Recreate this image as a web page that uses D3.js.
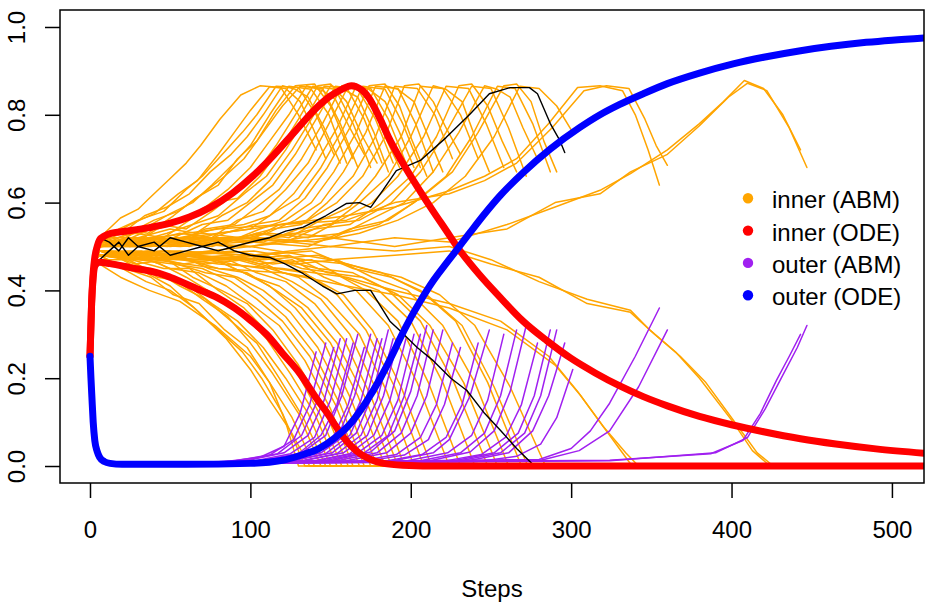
<!DOCTYPE html>
<html>
<head>
<meta charset="utf-8">
<script src="https://d3js.org/d3.v7.min.js"></script>
<style>
body { margin: 0; background: #fff; }
svg { font-family: "Liberation Sans", Arial, Helvetica, sans-serif; }
.run { fill: none; stroke-width: 1.5px; stroke-linejoin: round; stroke-linecap: round; }
.ode { fill: none; stroke-width: 7px; stroke-linejoin: round; stroke-linecap: round; }
</style>
</head>
<body>
<script>
// inner (ABM) runs, branch going up then down at the end of the run
var innerUp = [
 [[0,.25],[3,.47],[6,.52],[19,.565],[30,.585],[37,.61],[50,.655],[60,.69],[69,.73],[81,.79],[94,.845],[106,.866],[119,.862],[130,.80],[141,.72]],
 [[0,.25],[3,.47],[6,.51],[15,.53],[25,.55],[40,.575],[55,.62],[67,.65],[80,.71],[90,.76],[100,.81],[112,.864],[122,.86],[131,.83],[139,.77],[147,.70]],
 [[0,.25],[3,.47],[6,.50],[18,.54],[30,.56],[46,.58],[60,.63],[70,.66],[85,.72],[95,.76],[104,.80],[116,.865],[130,.862],[141,.80],[152,.71]],
 [[0,.25],[3,.47],[6,.51],[20,.53],[34,.57],[48,.59],[62,.62],[75,.67],[88,.71],[98,.75],[108,.80],[120,.866],[128,.858],[136,.84],[146,.77],[156,.69]],
 [[0,.25],[3,.47],[6,.50],[22,.52],[38,.55],[50,.575],[64,.60],[76,.64],[90,.69],[100,.73],[112,.80],[124,.865],[138,.858],[149,.80],[160,.69]],
 [[0,.25],[3,.47],[6,.52],[20,.54],[36,.53],[52,.57],[66,.61],[80,.64],[92,.70],[104,.74],[116,.81],[128,.866],[140,.87],[150,.82],[157,.76],[164,.70]],
 [[0,.25],[3,.47],[6,.50],[24,.53],[40,.56],[55,.58],[70,.62],[84,.66],[96,.70],[108,.76],[120,.82],[131,.865],[145,.86],[156,.78],[167,.68]],
 [[0,.25],[3,.47],[6,.51],[25,.50],[42,.54],[58,.56],[72,.59],[86,.63],[100,.68],[112,.74],[124,.80],[135,.866],[145,.855],[153,.835],[162,.77],[171,.71]],
 [[0,.25],[3,.47],[6,.50],[26,.52],[44,.55],[60,.54],[76,.58],[90,.62],[104,.67],[116,.73],[128,.80],[139,.865],[153,.858],[164,.78],[175,.68]],
 [[0,.25],[3,.47],[6,.51],[28,.53],[46,.52],[62,.56],[78,.60],[92,.61],[106,.66],[118,.72],[130,.79],[142,.866],[150,.87],[160,.83],[170,.75],[179,.69]],
 [[0,.25],[3,.47],[6,.50],[28,.51],[48,.53],[64,.55],[80,.57],[96,.62],[110,.66],[122,.72],[134,.79],[146,.865],[160,.862],[171,.79],[182,.69]],
 [[0,.25],[3,.47],[6,.52],[30,.52],[50,.54],[66,.53],[82,.57],[98,.60],[112,.65],[126,.72],[138,.79],[150,.866],[158,.858],[167,.84],[177,.76],[186,.67]],
 [[0,.25],[3,.47],[6,.50],[30,.50],[52,.52],[70,.55],[86,.56],[100,.60],[114,.64],[128,.71],[141,.79],[153,.865],[167,.858],[178,.79],[189,.69]],
 [[0,.25],[3,.47],[6,.51],[32,.52],[54,.51],[72,.54],[90,.55],[104,.59],[118,.63],[132,.70],[145,.78],[157,.866],[166,.87],[175,.83],[184,.75],[193,.68]],
 [[0,.25],[3,.47],[6,.50],[34,.51],[56,.53],[76,.52],[92,.56],[108,.58],[122,.63],[136,.69],[149,.78],[161,.865],[175,.86],[186,.79],[197,.69]],
 [[0,.25],[3,.47],[6,.51],[34,.50],[58,.52],[78,.54],[96,.55],[112,.57],[127,.62],[141,.69],[154,.77],[166,.866],[174,.858],[184,.83],[193,.76],[202,.68]],
 [[0,.25],[3,.47],[6,.50],[36,.52],[60,.51],[80,.53],[100,.54],[116,.58],[130,.61],[144,.68],[158,.77],[170,.865],[184,.858],[195,.78],[206,.68]],
 [[0,.25],[3,.47],[6,.51],[38,.51],[62,.50],[84,.53],[102,.55],[118,.56],[134,.61],[148,.68],[162,.77],[174,.866],[184,.87],[193,.82],[201,.74],[210,.66]],
 [[0,.25],[3,.47],[6,.50],[38,.50],[64,.52],[86,.51],[106,.54],[122,.56],[138,.60],[152,.67],[166,.76],[178,.865],[192,.86],[203,.78],[214,.67]],
 [[0,.25],[3,.47],[6,.51],[40,.52],[66,.51],[90,.52],[110,.53],[128,.56],[144,.60],[158,.67],[172,.76],[184,.866],[192,.858],[202,.83],[211,.75],[220,.67]],
 [[0,.25],[3,.47],[6,.50],[42,.51],[70,.53],[94,.52],[114,.54],[132,.55],[148,.60],[164,.66],[178,.75],[190,.865],[204,.86],[215,.80],[226,.70]],
 [[0,.25],[3,.47],[6,.51],[44,.50],[72,.52],[98,.51],[118,.55],[136,.56],[154,.60],[170,.66],[184,.75],[196,.866],[205,.87],[214,.83],[222,.77],[231,.71]],
 [[0,.25],[3,.47],[6,.50],[46,.51],[76,.50],[104,.53],[124,.52],[144,.56],[162,.59],[178,.66],[194,.75],[206,.865],[220,.86],[231,.80],[242,.70]],
 [[0,.25],[3,.47],[6,.51],[48,.50],[80,.52],[108,.51],[130,.54],[150,.55],[168,.60],[186,.66],[200,.75],[214,.866],[222,.858],[232,.83],[240,.75],[249,.67]],
 [[0,.25],[3,.47],[6,.50],[50,.52],[84,.51],[112,.53],[136,.52],[156,.56],[176,.60],[192,.66],[208,.75],[222,.865],[236,.86],[247,.78],[258,.68]],
 [[0,.25],[3,.47],[6,.51],[52,.51],[88,.50],[116,.52],[140,.54],[162,.55],[182,.60],[200,.66],[216,.75],[230,.866],[238,.87],[248,.82],[257,.74],[266,.67]],
 [[0,.25],[3,.47],[6,.50],[54,.52],[92,.52],[122,.51],[146,.55],[168,.56],[188,.60],[206,.67],[222,.76],[238,.865],[250,.86],[261,.77],[272,.66]],
 [[0,.25],[3,.47],[6,.51],[56,.50],[96,.51],[126,.53],[152,.52],[174,.56],[196,.60],[214,.67],[230,.76],[246,.866],[254,.858],[262,.84],[270,.77],[279,.70]],
 [[0,.25],[3,.47],[6,.50],[58,.51],[100,.50],[132,.52],[158,.53],[180,.55],[202,.60],[222,.66],[238,.75],[254,.865],[265,.86],[276,.78],[287,.67]],
 [[0,.25],[3,.47],[6,.51],[60,.52],[102,.51],[136,.50],[162,.54],[186,.56],[206,.61],[226,.67],[242,.76],[258,.866],[266,.87],[275,.83],[283,.74],[291,.67]],
 [[0,.25],[3,.47],[6,.50],[62,.51],[106,.52],[140,.51],[168,.53],[192,.56],[214,.60],[234,.66],[252,.75],[268,.865],[280,.86],[291,.82],[301,.76]],
 [[0,.25],[3,.47],[6,.51],[40,.52],[80,.54],[120,.55],[160,.57],[190,.59],[224,.627],[246,.66],[266,.70],[286,.78],[304,.862],[318,.866],[332,.855],[340,.80],[348,.72],[355,.64]],
 [[0,.25],[3,.47],[6,.50],[40,.51],[80,.53],[120,.55],[160,.56],[190,.60],[224,.62],[246,.65],[266,.69],[288,.77],[308,.855],[322,.866],[336,.86],[346,.79],[353,.73],[360,.685]],
 [[0,.25],[3,.47],[6,.51],[50,.50],[100,.52],[150,.50],[190,.52],[224,.51],[260,.55],[290,.59],[318,.628],[337,.666],[360,.72],[380,.78],[395,.83],[408,.878],[420,.86],[432,.80],[443,.72]],
 [[0,.25],[3,.47],[6,.50],[50,.51],[100,.50],[150,.52],[190,.50],[224,.52],[260,.54],[290,.60],[318,.62],[337,.67],[360,.71],[380,.775],[398,.84],[410,.872],[422,.855],[436,.77],[447,.68]]
];

// inner (ABM) runs, branch going down to zero
var innerDown = [
 [[0,.25],[3,.47],[6,.46],[19,.43],[37,.40],[56,.375],[78,.32],[100,.25],[112,.19],[122,.10],[130,0],[141,0]],
 [[0,.25],[3,.47],[6,.48],[20,.45],[35,.42],[50,.40],[65,.36],[80,.31],[95,.26],[107,.2],[120,.12],[134,0],[147,0]],
 [[0,.25],[3,.47],[6,.49],[20,.47],[35,.44],[50,.41],[68,.35],[85,.29],[100,.22],[112,.15],[125,.08],[137,0],[152,0]],
 [[0,.25],[3,.47],[6,.48],[22,.45],[38,.43],[52,.39],[68,.37],[84,.31],[98,.27],[112,.19],[126,.11],[140,0],[156,0]],
 [[0,.25],[3,.47],[6,.49],[24,.47],[40,.44],[55,.42],[70,.38],[86,.34],[100,.28],[114,.21],[130,.12],[144,0],[160,0]],
 [[0,.25],[3,.47],[6,.47],[22,.46],[38,.45],[56,.41],[72,.38],[88,.33],[104,.28],[118,.20],[133,.11],[147,0],[164,0]],
 [[0,.25],[3,.47],[6,.48],[24,.47],[42,.43],[58,.42],[76,.37],[92,.33],[108,.27],[122,.20],[136,.12],[150,0],[167,0]],
 [[0,.25],[3,.47],[6,.49],[26,.48],[44,.46],[60,.43],[78,.39],[94,.35],[110,.29],[125,.21],[140,.12],[154,0],[171,0]],
 [[0,.25],[3,.47],[6,.48],[26,.47],[46,.45],[62,.45],[80,.40],[96,.36],[112,.30],[128,.22],[143,.12],[157,0],[175,0]],
 [[0,.25],[3,.47],[6,.49],[28,.46],[48,.47],[64,.43],[82,.40],[98,.37],[114,.31],[130,.23],[146,.13],[161,0],[179,0]],
 [[0,.25],[3,.47],[6,.48],[30,.48],[50,.45],[68,.44],[85,.41],[100,.37],[118,.32],[134,.24],[150,.13],[164,0],[182,0]],
 [[0,.25],[3,.47],[6,.47],[30,.47],[52,.46],[70,.45],[88,.42],[104,.38],[120,.33],[137,.25],[153,.14],[168,0],[186,0]],
 [[0,.25],[3,.47],[6,.49],[32,.49],[54,.46],[72,.44],[90,.43],[106,.39],[122,.34],[139,.26],[156,.14],[171,0],[189,0]],
 [[0,.25],[3,.47],[6,.48],[32,.47],[56,.48],[74,.45],[92,.43],[108,.40],[125,.35],[142,.27],[159,.15],[175,0],[193,0]],
 [[0,.25],[3,.47],[6,.49],[34,.48],[58,.46],[78,.47],[96,.44],[112,.41],[128,.36],[146,.28],[163,.15],[179,0],[197,0]],
 [[0,.25],[3,.47],[6,.48],[36,.49],[60,.47],[80,.45],[98,.44],[116,.40],[132,.36],[150,.28],[167,.16],[184,0],[202,0]],
 [[0,.25],[3,.47],[6,.49],[36,.47],[62,.48],[84,.46],[102,.43],[118,.41],[136,.36],[154,.28],[171,.16],[188,0],[206,0]],
 [[0,.25],[3,.47],[6,.48],[38,.49],[64,.47],[86,.47],[104,.44],[122,.42],[140,.37],[158,.29],[175,.16],[192,0],[210,0]],
 [[0,.25],[3,.47],[6,.49],[40,.48],[66,.48],[88,.46],[108,.45],[126,.42],[144,.38],[162,.30],[179,.17],[196,0],[214,0]],
 [[0,.25],[3,.47],[6,.48],[40,.47],[68,.48],[92,.47],[112,.45],[130,.43],[148,.38],[168,.30],[185,.17],[202,0],[220,0]],
 [[0,.25],[3,.47],[6,.49],[42,.48],[72,.46],[96,.47],[116,.45],[134,.44],[154,.39],[172,.31],[190,.18],[208,0],[226,0]],
 [[0,.25],[3,.47],[6,.48],[44,.49],[74,.47],[100,.48],[120,.44],[138,.43],[158,.39],[176,.31],[194,.18],[213,0],[231,0]],
 [[0,.25],[3,.47],[6,.49],[46,.48],[78,.49],[106,.46],[126,.47],[146,.43],[166,.40],[186,.32],[204,.19],[224,0],[242,0]],
 [[0,.25],[3,.47],[6,.48],[48,.49],[82,.47],[110,.48],[132,.45],[152,.44],[172,.40],[192,.33],[211,.19],[231,0],[249,0]],
 [[0,.25],[3,.47],[6,.49],[50,.47],[86,.48],[114,.46],[138,.47],[158,.43],[180,.40],[200,.33],[220,.19],[240,0],[258,0]],
 [[0,.25],[3,.47],[6,.48],[52,.48],[90,.49],[118,.47],[142,.45],[164,.44],[186,.40],[206,.33],[227,.19],[248,0],[266,0]],
 [[0,.25],[3,.47],[6,.49],[54,.47],[94,.47],[124,.48],[148,.44],[170,.43],[192,.39],[212,.32],[233,.19],[254,0],[272,0]],
 [[0,.25],[3,.47],[6,.48],[56,.49],[98,.48],[128,.46],[154,.47],[176,.43],[198,.40],[220,.32],[240,.19],[261,0],[279,0]],
 [[0,.25],[3,.47],[6,.49],[58,.48],[102,.49],[134,.47],[160,.46],[182,.44],[206,.40],[228,.33],[248,.19],[269,0],[287,0]],
 [[0,.25],[3,.47],[6,.48],[60,.47],[104,.48],[138,.49],[164,.45],[188,.43],[210,.39],[232,.32],[252,.18],[273,0],[291,0]],
 [[0,.25],[3,.47],[6,.49],[62,.48],[108,.47],[142,.48],[170,.45],[194,.43],[218,.39],[240,.32],[262,.18],[284,0],[301,0]],
 [[0,.25],[3,.47],[6,.48],[40,.47],[80,.45],[120,.44],[160,.41],[190,.39],[224,.36],[260,.31],[290,.23],[306,.16],[318,.10],[330,.04],[338,0],[355,0]],
 [[0,.25],[3,.47],[6,.49],[40,.48],[80,.46],[120,.45],[160,.43],[190,.40],[224,.37],[256,.33],[286,.25],[304,.17],[320,.09],[334,.03],[342,0],[360,0]],
 [[0,.25],[3,.47],[6,.48],[50,.49],[100,.48],[150,.50],[190,.49],[224,.50],[250,.47],[280,.42],[310,.38],[337,.355],[349,.31],[365,.26],[380,.20],[401,.10],[413,.035],[424,0],[443,0]],
 [[0,.25],[3,.47],[6,.49],[50,.48],[100,.50],[150,.47],[190,.48],[224,.49],[250,.46],[280,.43],[310,.37],[337,.35],[352,.30],[368,.25],[384,.19],[404,.09],[416,.03],[426,0],[447,0]]
];

// outer (ABM) runs
var outerRuns = [
 [[0,.25],[4,.03],[10,.004],[80,.008],[106,.02],[121,.045],[131,.12],[141,.26]],
 [[0,.25],[4,.03],[10,.004],[87,.01],[112,.025],[127,.06],[137,.14],[147,.28]],
 [[0,.25],[4,.03],[10,.004],[92,.01],[117,.028],[132,.07],[142,.15],[152,.27]],
 [[0,.25],[4,.03],[10,.004],[96,.011],[121,.03],[136,.07],[146,.15],[156,.29]],
 [[0,.25],[4,.03],[10,.004],[100,.01],[125,.028],[140,.065],[150,.15],[160,.29]],
 [[0,.25],[4,.03],[10,.004],[104,.01],[129,.025],[144,.07],[154,.14],[164,.28]],
 [[0,.25],[4,.03],[10,.004],[107,.012],[132,.03],[147,.07],[157,.16],[167,.30]],
 [[0,.25],[4,.03],[10,.004],[111,.01],[136,.026],[151,.06],[161,.14],[171,.27]],
 [[0,.25],[4,.03],[10,.004],[115,.012],[140,.03],[155,.07],[165,.16],[175,.30]],
 [[0,.25],[4,.03],[10,.004],[119,.01],[144,.03],[159,.07],[169,.15],[179,.29]],
 [[0,.25],[4,.03],[10,.004],[122,.01],[147,.028],[162,.07],[172,.15],[182,.29]],
 [[0,.25],[4,.03],[10,.004],[126,.012],[151,.03],[166,.075],[176,.16],[186,.31]],
 [[0,.25],[4,.03],[10,.004],[129,.01],[154,.028],[169,.07],[179,.15],[189,.29]],
 [[0,.25],[4,.03],[10,.004],[133,.012],[158,.03],[173,.07],[183,.16],[193,.30]],
 [[0,.25],[4,.03],[10,.004],[137,.01],[162,.028],[177,.07],[187,.15],[197,.29]],
 [[0,.25],[4,.03],[10,.004],[142,.012],[167,.03],[182,.07],[192,.15],[202,.30]],
 [[0,.25],[4,.03],[10,.004],[146,.012],[171,.03],[186,.07],[196,.16],[206,.30]],
 [[0,.25],[4,.03],[10,.004],[150,.012],[175,.032],[190,.08],[200,.17],[210,.32]],
 [[0,.25],[4,.03],[10,.004],[154,.012],[179,.03],[194,.075],[204,.16],[214,.31]],
 [[0,.25],[4,.03],[10,.004],[160,.012],[185,.03],[200,.075],[210,.16],[220,.31]],
 [[0,.25],[4,.03],[10,.004],[166,.01],[191,.026],[206,.065],[216,.14],[226,.28]],
 [[0,.25],[4,.03],[10,.004],[171,.01],[196,.025],[211,.06],[221,.14],[231,.27]],
 [[0,.25],[4,.03],[10,.004],[182,.01],[207,.026],[222,.065],[232,.14],[242,.28]],
 [[0,.25],[4,.03],[10,.004],[189,.012],[214,.03],[224,.06],[237,.16],[249,.31]],
 [[0,.25],[4,.03],[10,.004],[198,.012],[223,.03],[238,.07],[248,.15],[258,.30]],
 [[0,.25],[4,.03],[10,.004],[206,.012],[231,.03],[246,.075],[256,.16],[266,.31]],
 [[0,.25],[4,.03],[10,.004],[212,.012],[237,.032],[252,.08],[262,.17],[272,.32]],
 [[0,.25],[4,.03],[10,.004],[219,.01],[244,.026],[259,.065],[269,.14],[279,.28]],
 [[0,.25],[4,.03],[10,.004],[227,.012],[252,.03],[267,.075],[277,.16],[287,.31]],
 [[0,.25],[4,.03],[10,.004],[231,.012],[256,.03],[271,.075],[281,.16],[291,.31]],
 [[0,.25],[4,.03],[10,.004],[241,.01],[266,.022],[281,.05],[291,.11],[301,.22]],
 [[0,.25],[4,.03],[10,.004],[280,.015],[300,.04],[312,.08],[324,.143],[340,.25],[355,.36]],
 [[0,.25],[4,.03],[10,.004],[280,.012],[305,.035],[324,.08],[342,.18],[360,.31]],
 [[0,.25],[4,.03],[10,.004],[324,.013],[387,.028],[407,.058],[418,.12],[428,.195],[436,.25],[443,.30]],
 [[0,.25],[4,.03],[10,.004],[324,.012],[390,.03],[410,.065],[421,.13],[431,.2],[441,.27],[447,.32]],
 [[0,.25],[4,.03],[10,.004],[236,.012],[261,.03],[276,.08],[286,.16],[296,.28]]
];

// highlighted run (black)
var blackUp = [[0,.25],[3,.47],[6,.52],[12,.51],[18,.49],[24,.52],[30,.50],[40,.49],[50,.52],[60,.51],[70,.50],[80,.49],[90,.50],[100,.51],[112,.52],[122,.535],[133,.544],[147,.57],[160,.598],[168,.60],[175,.589],[183,.63],[191,.673],[206,.696],[222,.748],[237,.802],[249,.848],[262,.862],[274,.862],[279,.848],[287,.78],[293,.741],[296,.714]];
var blackDown = [[0,.25],[3,.47],[6,.47],[12,.49],[18,.51],[24,.48],[30,.50],[40,.51],[50,.48],[60,.49],[70,.50],[80,.51],[90,.49],[100,.48],[112,.475],[122,.46],[133,.438],[145,.41],[154,.392],[165,.40],[175,.40],[187,.33],[193,.309],[204,.27],[214,.24],[225,.2],[235,.172],[246,.12],[256,.081],[266,.04],[276,.004],[296,0]];

// ODE solutions
var odeInnerHigh = [[0,.25],[1,.37],[2,.44],[3,.475],[4.5,.5],[6,.515],[9,.524],[13,.53],[25,.536],[37,.543],[50,.553],[62,.567],[75,.589],[89,.622],[102,.662],[114,.706],[128,.763],[141,.815],[150,.843],[157,.858],[163,.866],[166,.864],[170,.855],[174,.838],[178,.812],[182,.782],[186,.75],[195,.69],[206,.625],[214,.58],[222,.537],[229,.499],[243,.435],[256,.383],[270,.33],[285,.285],[300,.245],[315,.212],[330,.183],[345,.158],[360,.137],[380,.113],[400,.094],[420,.078],[443,.062],[465,.05],[490,.039],[520,.029]];
var odeInnerLow = [[0,.25],[1,.37],[2,.43],[3,.455],[4.5,.462],[6,.464],[12.5,.461],[25,.452],[44,.438],[50,.43],[69,.40],[79,.384],[90,.36],[100,.332],[110,.30],[120,.257],[131,.21],[141,.155],[148,.12],[153,.092],[158,.066],[163,.045],[168,.029],[175,.015],[183,.006],[195,.002],[220,0],[520,0]];
var odeOuter = [[0,.25],[0.6,.2],[1.2,.156],[2,.1],[3,.058],[4.5,.033],[6,.02],[9,.01],[12.5,.006],[20,.004],[60,.004],[100,.006],[120,.013],[131,.024],[143,.04],[152,.062],[162,.095],[172,.145],[181,.2],[189,.257],[193,.288],[200,.338],[206,.376],[214,.422],[222,.461],[229,.494],[237,.532],[246,.574],[256,.617],[270,.668],[287,.722],[305,.770],[318,.800],[330,.823],[345,.848],[360,.871],[380,.895],[401,.916],[420,.931],[443,.946],[462,.956],[484,.965],[500,.970],[520,.975]];

var legendLabels = ["inner (ABM)", "inner (ODE)", "outer (ABM)", "outer (ODE)"];
var legendColors = ["orange", "red", "#A020F0", "blue"];
var xTicks = [0, 100, 200, 300, 400, 500];
var yTicks = [0, 0.2, 0.4, 0.6, 0.8, 1.0];

var width = 933, height = 607,
    pLeft = 60, pRight = 924, pTop = 10, pBottom = 483;

var svg = d3.select("body").append("svg")
    .attr("width", width)
    .attr("height", height);

var x = d3.scaleLinear().domain([-18.7, 520]).range([pLeft, pRight]);
var y = d3.scaleLinear().domain([-0.0387, 1.0387]).range([pBottom, pTop]);

var line = d3.line()
    .x(function(d) { return x(d[0]); })
    .y(function(d) { return y(d[1]); });
var smooth = d3.line()
    .x(function(d) { return x(d[0]); })
    .y(function(d) { return y(d[1]); })
    .curve(d3.curveMonotoneX);

svg.append("clipPath").attr("id", "plotclip")
  .append("rect")
    .attr("x", pLeft).attr("y", pTop)
    .attr("width", pRight - pLeft).attr("height", pBottom - pTop);

var plot = svg.append("g").attr("clip-path", "url(#plotclip)");

// ABM runs
plot.append("g").selectAll("path")
    .data(innerUp.concat(innerDown))
  .enter().append("path")
    .attr("class", "run")
    .attr("d", line)
    .style("stroke", legendColors[0]);

plot.append("g").selectAll("path")
    .data(outerRuns)
  .enter().append("path")
    .attr("class", "run")
    .attr("d", line)
    .style("stroke", legendColors[2]);

plot.append("g").selectAll("path")
    .data([blackUp, blackDown])
  .enter().append("path")
    .attr("class", "run")
    .attr("d", line)
    .style("stroke", "#000")
    .style("stroke-width", "1.4px");

// ODE curves
plot.append("g").selectAll("path")
    .data([odeInnerHigh, odeInnerLow])
  .enter().append("path")
    .attr("class", "ode")
    .attr("d", smooth)
    .style("stroke", legendColors[1]);

plot.append("path")
    .datum(odeOuter)
    .attr("class", "ode")
    .attr("d", smooth)
    .style("stroke", legendColors[3]);

// box
svg.append("rect")
    .attr("x", pLeft).attr("y", pTop)
    .attr("width", pRight - pLeft).attr("height", pBottom - pTop)
    .style("fill", "none").style("stroke", "#000").style("stroke-width", "1.5px");

// axes
var xAxis = svg.append("g")
    .attr("transform", "translate(0," + pBottom + ")")
    .call(d3.axisBottom(x).tickValues(xTicks).tickSize(15).tickFormat(d3.format("d")));
xAxis.select(".domain").remove();
xAxis.selectAll("line").style("stroke-width", "1.5px");
xAxis.selectAll("text")
    .attr("y", 55).attr("dy", 0)
    .style("font-size", "24px")
    .style("font-family", "'Liberation Sans', Arial, Helvetica, sans-serif")
    .style("fill", "#000");

var yAxis = svg.append("g")
    .attr("transform", "translate(" + pLeft + ",0)")
    .call(d3.axisLeft(y).tickValues(yTicks).tickSize(15).tickFormat(d3.format(".1f")));
yAxis.select(".domain").remove();
yAxis.selectAll("line").style("stroke-width", "1.5px");
yAxis.selectAll("text")
    .attr("x", 0).attr("y", 0).attr("dy", 0)
    .attr("text-anchor", "middle")
    .attr("transform", "translate(-35,0) rotate(-90)")
    .style("font-size", "24px")
    .style("font-family", "'Liberation Sans', Arial, Helvetica, sans-serif")
    .style("fill", "#000");

svg.append("text")
    .attr("x", (pLeft + pRight) / 2)
    .attr("y", 597)
    .attr("text-anchor", "middle")
    .style("font-size", "24px")
    .text("Steps");

// legend
var legend = svg.append("g").selectAll("g")
    .data(legendLabels)
  .enter().append("g")
    .attr("transform", function(d, i) { return "translate(748," + (198.3 + i * 32.3) + ")"; });

legend.append("circle")
    .attr("r", 5.2)
    .style("fill", function(d, i) { return legendColors[i]; });

legend.append("text")
    .attr("x", 24)
    .attr("y", 10)
    .style("font-size", "24px")
    .text(function(d) { return d; });
</script>
</body>
</html>
